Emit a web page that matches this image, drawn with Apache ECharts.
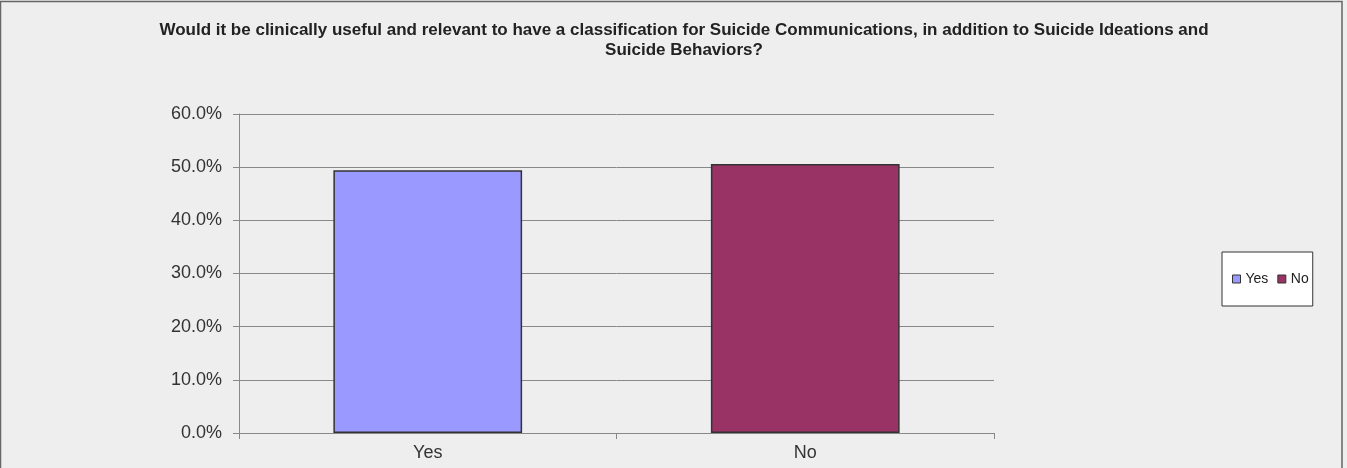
<!DOCTYPE html>
<html>
<head>
<meta charset="utf-8">
<script src="https://cdn.jsdelivr.net/npm/echarts@6/dist/echarts.min.js"></script>
<style>
  html, body { margin: 0; padding: 0; background: #eeeeee; }
  #chart { width: 1347px; height: 468px; }
</style>
</head>
<body>
<div id="chart"></div>
<script>
// Survey answers and their shares (percent)
const categories = ['Yes', 'No'];
const seriesNames = ['Yes', 'No'];
const yesValues = [49.4, null];
const noValues = [null, 50.6];
const seriesColors = ['#9999ff', '#993366'];
const titleLines = [
  'Would it be clinically useful and relevant to have a classification for Suicide Communications, in addition to Suicide Ideations and',
  'Suicide Behaviors?'
];

const chart = echarts.init(document.getElementById('chart'), null, { renderer: 'canvas' });

const FONT = 'Liberation Sans, Arial, sans-serif';
const barStyle = (c) => ({ color: c, borderColor: '#333333', borderWidth: 1.5 });

chart.setOption({
  backgroundColor: '#eeeeee',
  animation: false,
  title: {
    text: titleLines.join('\n'),
    left: 679,
    textAlign: 'center',
    top: 15,
    textStyle: {
      fontFamily: FONT,
      fontSize: 17,
      fontWeight: 'bold',
      color: '#222222',
      lineHeight: 20
    }
  },
  legend: {
    data: seriesNames,
    orient: 'horizontal',
    left: 1222,
    top: 252,
    padding: [20, 4, 20, 10],
    backgroundColor: '#ffffff',
    borderColor: '#333333',
    borderWidth: 1,
    itemWidth: 8,
    itemHeight: 8,
    itemGap: 9,
    icon: 'rect',
    itemStyle: { borderColor: '#333333', borderWidth: 1 },
    textStyle: {
      fontFamily: FONT,
      fontSize: 14,
      color: '#222222'
    }
  },
  grid: {
    left: 239,
    right: 1347 - 994,
    top: 114,
    bottom: 468 - 433,
    containLabel: false
  },
  xAxis: {
    type: 'category',
    data: categories,
    axisLine: { show: true, lineStyle: { color: '#888888', width: 1 } },
    axisTick: { show: true, length: 6, alignWithLabel: false, lineStyle: { color: '#888888' } },
    axisLabel: {
      fontFamily: FONT,
      fontSize: 18,
      color: '#333333',
      margin: 11
    }
  },
  yAxis: {
    type: 'value',
    min: 0,
    max: 60,
    interval: 10,
    axisLine: { show: true, lineStyle: { color: '#888888', width: 1 } },
    axisTick: { show: true, length: 6, inside: false, lineStyle: { color: '#888888' } },
    splitLine: { show: true, lineStyle: { color: '#888888', width: 1 } },
    axisLabel: {
      formatter: (v) => v.toFixed(1) + '%',
      fontFamily: FONT,
      fontSize: 18,
      color: '#333333',
      margin: 17
    }
  },
  series: [
    {
      name: seriesNames[0],
      type: 'bar',
      data: yesValues,
      barWidth: '50%',
      barGap: '-100%',
      itemStyle: barStyle(seriesColors[0])
    },
    {
      name: seriesNames[1],
      type: 'bar',
      data: noValues,
      barWidth: '50%',
      barGap: '-100%',
      itemStyle: barStyle(seriesColors[1])
    }
  ],
  graphic: [
    {
      type: 'rect',
      shape: { x: 0.5, y: 1.5, width: 1341.5, height: 475 },
      style: { fill: 'none', stroke: '#666666', lineWidth: 1.5 },
      silent: true
    }
  ]
});
</script>
</body>
</html>
